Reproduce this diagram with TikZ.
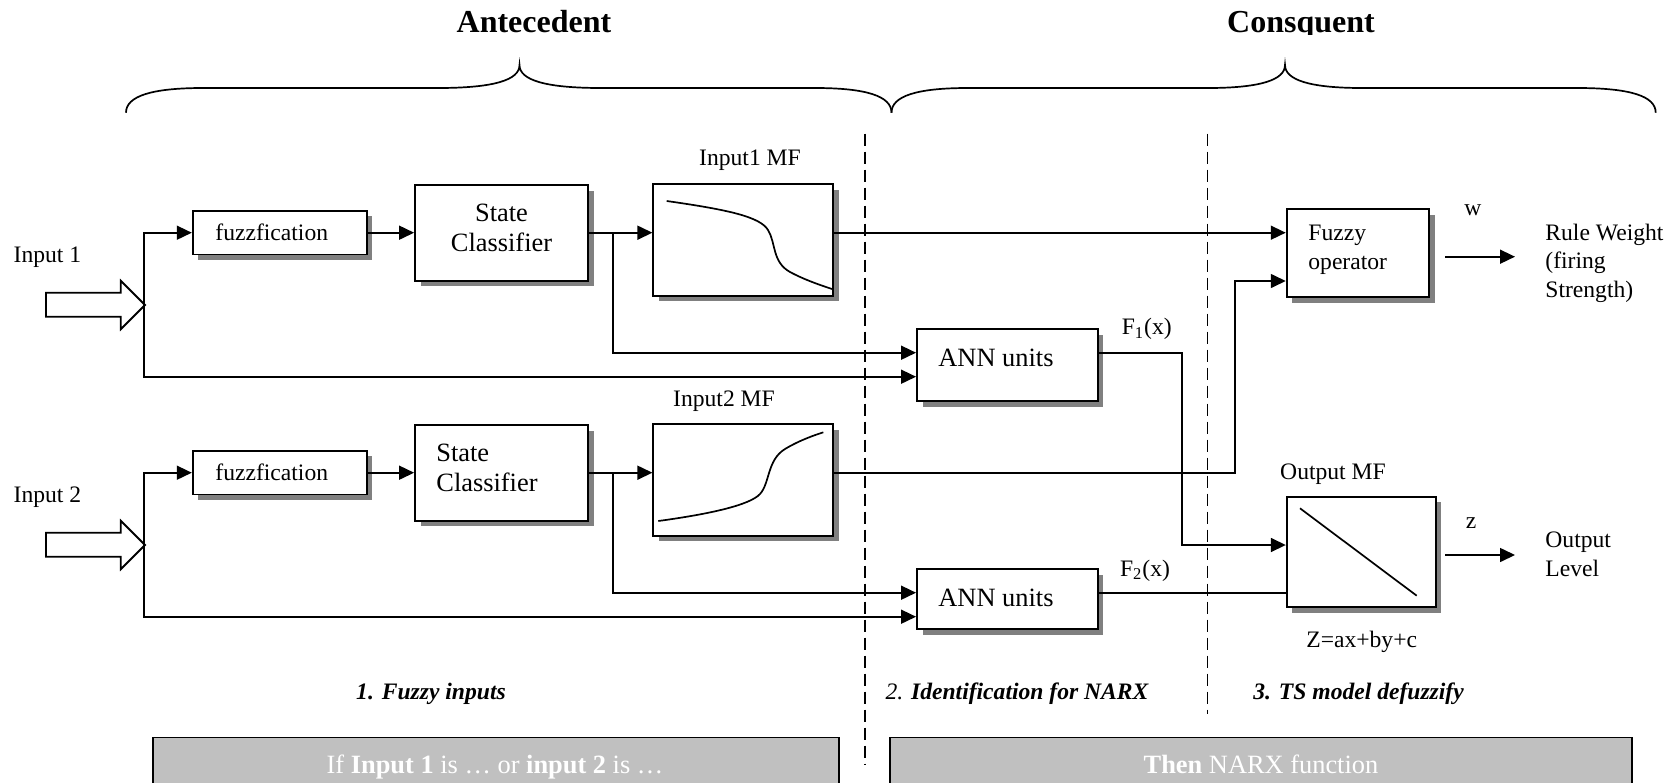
\documentclass[tikz,border=0pt]{standalone}
\usepackage{fontspec}
\setmainfont{Liberation Serif}
\usetikzlibrary{arrows.meta,shadows}
\definecolor{shadowgray}{RGB}{128,128,128}
\definecolor{panelgray}{RGB}{192,192,192}

\begin{document}
\begin{tikzpicture}[x=0.5pt,y=-0.5pt,
  blk/.style={draw, line width=0.9pt, fill=white, inner sep=0pt,
    drop shadow={shadow xshift=2.8pt, shadow yshift=-2.8pt, fill=shadowgray, opacity=1}},
  ln/.style={line width=0.8pt},
  arr/.style={ln, -{Triangle[length=7.5pt,width=7pt]}},
  txt/.style={inner sep=0pt, font=\fontsize{11.8}{14.3}\selectfont},
  lrg/.style={inner sep=0pt, font=\fontsize{13.2}{15.2}\selectfont},
  hdr/.style={inner sep=0pt, font=\fontsize{16}{19}\selectfont\bfseries},
  sec/.style={inner sep=0pt, font=\fontsize{11.8}{14}\selectfont\bfseries\itshape},
  brc/.style={line width=0.85pt},
  dsh/.style={line width=0.75pt, dash pattern=on 6pt off 3pt},
  panelbox/.style={draw=black, line width=0.8pt, fill=panelgray},
  mfcurve/.style={line width=0.85pt},
  bigarrow/.style={draw, line width=0.9pt, fill=white}]

\useasboundingbox (0,0) rectangle (1676,782);

% ---------- headings and braces ----------
\node[hdr, anchor=base] (ant) at (534,32.3) {Antecedent};
\begin{scope}
  \clip (1100,0) rectangle (1500,34);
  \node[hdr, anchor=base] (csq) at (1301,32.3) {Consquent};
\end{scope}

\draw[brc] (126,112.7) .. controls (126,96) and (152,88) .. (203,88) -- (438,88)
  .. controls (494,88) and (519.5,80) .. (519.5,65)
  .. controls (519.5,80) and (545,88) .. (601,88) -- (815,88)
  .. controls (866,88) and (891.5,96) .. (891.5,112.7);
\draw[brc] (891.5,112.7) .. controls (891.5,96) and (917,88) .. (968,88) -- (1208,88)
  .. controls (1260,88) and (1285,80) .. (1285,65)
  .. controls (1285,80) and (1310,88) .. (1362,88) -- (1577,88)
  .. controls (1630,88) and (1655.7,96) .. (1655.7,112.7);

% ---------- stage separators ----------
\draw[dsh] (865,133.6) -- (865,764);
\draw[dsh] (1207.7,133.6) -- (1207.7,714);

% ---------- lane levels and bend points ----------
\coordinate (yr1) at (0,232.7);
\coordinate (yr2) at (0,472.7);
\coordinate (ya1) at (0,352.7);
\coordinate (yb1) at (0,376.7);
\coordinate (ya2) at (0,592.7);
\coordinate (yb2) at (0,616.7);
\coordinate (yfo) at (0,281);
\coordinate (yom) at (0,545);
\coordinate (br1) at (612.7,232.7);
\coordinate (br2) at (612.7,472.7);
\coordinate (k1) at (1181.7,352.7);
\coordinate (k2) at (1235,472.7);
\coordinate (w0) at (1445,256.7);
\coordinate (w1) at (1515,256.7);
\coordinate (z0) at (1445,555);
\coordinate (z1) at (1515,555);

% ---------- blocks ----------
\node[blk, minimum width=87pt, minimum height=21.85pt] (fz1) at (279.7,232.7) {};
\node[blk, minimum width=86.5pt, minimum height=47.85pt] (sc1) at (501.5,232.8) {};
\node[blk, minimum width=90pt, minimum height=55.7pt] (mf1) at (743.3,240) {};
\node[blk, minimum width=90.35pt, minimum height=36pt] (ann1) at (1007.3,365) {};
\node[blk, minimum width=71.15pt, minimum height=44pt] (fop) at (1357.8,253) {};

\node[blk, minimum width=87pt, minimum height=21.85pt] (fz2) at (279.7,472.7) {};
\node[blk, minimum width=86.5pt, minimum height=47.85pt] (sc2) at (501.5,472.8) {};
\node[blk, minimum width=90pt, minimum height=55.7pt] (mf2) at (743.3,480) {};
\node[blk, minimum width=90.35pt, minimum height=30pt] (ann2) at (1007.3,599) {};
\node[blk, minimum width=74.5pt, minimum height=55.3pt] (omf) at (1361.2,552) {};

% membership function sketches
\draw[mfcurve] (666.7,201) .. controls (730,210) and (760,217) .. (768,230)
  .. controls (776,243) and (772,262) .. (790,272)
  .. controls (805,280) and (820,285) .. (832,289);
\draw[mfcurve] (658.3,521) .. controls (710,514) and (750,505) .. (760,494)
  .. controls (770,483) and (767,460) .. (785,449)
  .. controls (800,440) and (815,435) .. (823.3,432.3);
\draw[mfcurve] (1300,508.3) -- (1416.7,595.7);

% ---------- input arrows ----------
\draw[bigarrow] (46,292.7) -- (120.7,292.7) -- (120.7,280.7) -- (145,305)
  -- (120.7,329.3) -- (120.7,316.7) -- (46,316.7) -- cycle;
\coordinate (in1) at (144,305);
\draw[bigarrow] (46,532.7) -- (120.7,532.7) -- (120.7,520.7) -- (145,545)
  -- (120.7,569.3) -- (120.7,556.7) -- (46,556.7) -- cycle;
\coordinate (in2) at (144,545);

% ---------- connectors ----------
\draw[arr] (in1) |- (fz1.west);
\draw[arr] (in1) |- (ann1.west |- yb1);
\draw[arr] (fz1.east) -- (fz1.east -| sc1.west);
\draw[arr] (sc1.east |- yr1) -- (mf1.west |- yr1);
\draw[arr] (br1) |- (ann1.west |- ya1);
\draw[arr] (mf1.east |- yr1) -- (fop.west |- yr1);

\draw[arr] (in2) |- (fz2.west);
\draw[arr] (in2) |- (ann2.west |- yb2);
\draw[arr] (fz2.east) -- (fz2.east -| sc2.west);
\draw[arr] (sc2.east |- yr2) -- (mf2.west |- yr2);
\draw[arr] (br2) |- (ann2.west |- ya2);
\draw[arr] (mf2.east |- yr2) -- (k2) |- (fop.west |- yfo);

\draw[arr] (ann1.east |- ya1) -- (k1) |- (omf.west |- yom);
\draw[ln] (ann2.east |- ya2) -- (omf.west |- ya2);

\draw[arr] (w0) -- (w1);
\draw[arr] (z0) -- (z1);

% ---------- block texts ----------
\node[txt, anchor=west] (fz1t) at (215,232) {fuzzfication};
\node[txt, anchor=west] (fz2t) at (215,472) {fuzzfication};
\node[lrg, align=center] (sc1t) at (501.5,228) {State\\Classifier};
\node[lrg, anchor=west, align=left] (sc2t) at (436,468) {State\\Classifier};
\node[lrg, anchor=west] (ann1t) at (938,357.5) {ANN units};
\node[lrg, anchor=west] (ann2t) at (938,597.5) {ANN units};
\node[txt, anchor=west, align=left] (fopt) at (1308,250) {Fuzzy\\operator};

% ---------- labels ----------
\node[txt, anchor=west] (lin1) at (13.3,257.5) {Input 1};
\node[txt, anchor=west] (lin2) at (13.3,497.5) {Input 2};
\node[txt] (lmf1) at (750,160) {Input1 MF};
\node[txt] (lmf2) at (724,401) {Input2 MF};
\node[txt] (lf1) at (1146.7,329) {F\textsubscript{1}(x)};
\node[txt] (lf2) at (1145,570.5) {F\textsubscript{2}(x)};
\node[txt] (lw) at (1473,210) {w};
\node[txt] (lz) at (1471,522.7) {z};
\node[txt] (lomf) at (1333,474) {Output MF};
\node[txt] (leq) at (1361.7,641.7) {Z=ax+by+c};
\node[txt, anchor=west, align=left] (lrw) at (1545,263) {Rule Weight\\(firing\\Strength)};
\node[txt, anchor=west, align=left] (lol) at (1545,554) {Output\\Level};

% ---------- stage titles ----------
\node[sec, anchor=base] (s1) at (431,699) {1. Fuzzy inputs};
\node[sec, anchor=base] (s2) at (1017,699) {{\mdseries 2. }Identification for NARX};
\node[sec, anchor=base] (s3) at (1358.6,699) {3. TS model defuzzify};

% ---------- rule panels ----------
\draw[panelbox] (152.8,737.3) rectangle (839,800);
\draw[panelbox] (890,737.3) rectangle (1632,800);
\node[lrg, text=white, anchor=base] (p1) at (495,773) {If \textbf{Input 1} is … or \textbf{input 2} is …};
\node[lrg, text=white, anchor=base] (p2) at (1261,773) {\textbf{Then} NARX function};

\end{tikzpicture}
\end{document}
